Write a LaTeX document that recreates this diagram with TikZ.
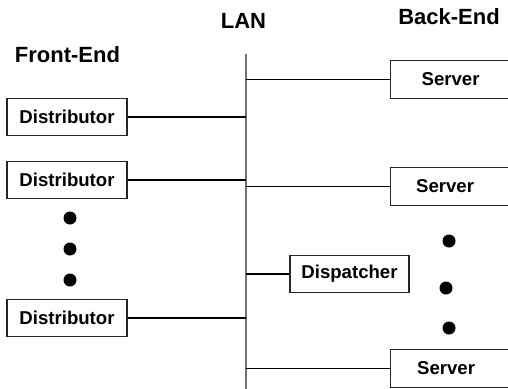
\documentclass[tikz,border=0pt]{standalone}
\usepackage{fontspec}
\setmainfont{Liberation Sans}
\begin{document}
\begin{tikzpicture}[x=1pt,y=-1pt,
  box/.style={draw=black!85,line width=1.2pt,fill=white,minimum width=120pt,minimum height=37.5pt,inner sep=0pt,font=\fontsize{18.6}{22}\selectfont\bfseries},
  head/.style={anchor=base,inner sep=0pt,font=\fontsize{22}{26}\selectfont\bfseries},
  conn/.style={black,line width=1.2pt},
  lan/.style={black!55,line width=2pt},
  dot/.style={circle,fill=black,inner sep=0pt,minimum size=13pt}]
\useasboundingbox (0,0) rectangle (508,388);
\clip (0,0) rectangle (508,388);
% headings
\node[head] (fe) at (67.5,62) {Front-End};
\node[head] (lanlbl) at (243.5,28) {LAN};
\node[head] (be) at (449,24) {Back-End};
% LAN bus
\coordinate (lantop) at (246,54);
\coordinate (lanbot) at (246,390);
\draw[lan] (lantop) -- (lanbot);
% front-end
\node[box] (d1) at (67,117) {Distributor};
\node[box] (d2) at (67,180) {Distributor};
\node[box] (d3) at (67,318) {Distributor};
\node[dot] (ld1) at (70,218) {};
\node[dot] (ld2) at (70,249) {};
\node[dot] (ld3) at (70,280) {};
% back-end
\node[box,anchor=west] (s1) at (390,79.5) {Server};
\node[box,anchor=west] (s2) at (390,186.5) {Server\hspace*{11pt}};
\node[box,anchor=west] (s3) at (390,368.5) {Server\hspace*{9pt}};
\node[box,minimum width=119pt] (disp) at (349.5,274) {Dispatcher};
\node[dot] (rd1) at (449,241) {};
\node[dot] (rd2) at (446,288) {};
\node[dot] (rd3) at (449,328) {};
% connectors
\foreach \n in {d1,d2,d3}{\draw[conn] (\n.east) -- (\n.east -| lantop);}
\foreach \n in {s1,s2,s3,disp}{\draw[conn] (\n.west -| lantop) -- (\n.west);}
\end{tikzpicture}
\end{document}
